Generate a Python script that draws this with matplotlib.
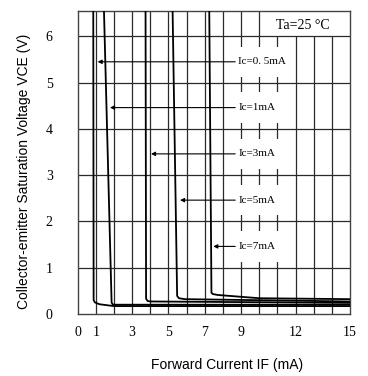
import numpy as np
import matplotlib.pyplot as plt
from matplotlib.patches import Rectangle

# forward current IF (mA) vs VCE(sat) (V)
x_05 = [0.86, 0.88, 0.95, 1.2, 2.0, 15.0]
y_05 = [6.55, 0.30, 0.25, 0.21, 0.17, 0.17]
x_1 = [1.45, 1.87, 1.92, 2.0, 15.0]
y_1 = [6.55, 0.25, 0.21, 0.20, 0.20]
x_3 = [3.74, 3.77, 3.85, 4.0, 15.0]
y_3 = [6.55, 0.33, 0.28, 0.27, 0.24]
x_5 = [5.23, 5.48, 5.58, 5.9, 15.0]
y_5 = [6.55, 0.39, 0.34, 0.32, 0.27]
x_7 = [7.25, 7.37, 7.45, 7.73, 10.0, 15.0]
y_7 = [6.55, 0.46, 0.43, 0.41, 0.34, 0.32]

labels = ["Ic=0. 5mA", "Ic=1mA", "Ic=3mA", "Ic=5mA", "Ic=7mA"]
label_y = [5.45, 4.46, 3.46, 2.46, 1.46]
arrow_tip = [1.1, 1.78, 4.04, 5.64, 7.47]

xtick_vals = [0, 1, 3, 5, 7, 9, 12, 15]
ytick_vals = [0, 1, 2, 3, 4, 5, 6]

serif = ['Liberation Serif', 'DejaVu Serif']
sans = ['Liberation Sans', 'DejaVu Sans']

fig = plt.figure(figsize=(3.68, 3.76), dpi=100)
ax = fig.add_axes([0.211, 0.165, 0.740, 0.806])
ax.set_xlim(0, 15)
ax.set_ylim(0, 6.55)

gc = '#2a2a2a'
top = 6.55
# vertical grid, lines 11..14 stop at 6 (box for Ta label)
for v in range(1, 15):
    ax.vlines(v, 0, 6 if 11 <= v <= 14 else top, color=gc, lw=0.9, zorder=1)
ax.hlines(range(1, 7), 0, 15, color=gc, lw=0.9, zorder=1)

# white gaps in grid behind the labels
for yy in label_y:
    ax.add_patch(Rectangle((8.7, yy - 0.33), 2.5, 0.66, facecolor='white',
                           edgecolor='none', zorder=1.5))

for xs, ys in [(x_05, y_05), (x_1, y_1), (x_3, y_3), (x_5, y_5), (x_7, y_7)]:
    ax.plot(xs, ys, color='black', lw=1.3, zorder=3)

for lab, yy, tip in zip(labels, label_y, arrow_tip):
    ax.annotate('', xy=(tip, yy), xytext=(8.68, yy),
                arrowprops=dict(arrowstyle='-|>', color='black', lw=0.8,
                                mutation_scale=6, shrinkA=0, shrinkB=0),
                zorder=4)
    ax.text(8.85, yy, lab, ha='left', va='center', fontsize=8,
            family=serif, zorder=5)

ax.text(12.4, 6.24, "Ta=25 \u00b0C", ha='center', va='center', fontsize=10,
        family=serif)

ax.set_xticks(xtick_vals)
ax.set_xticklabels([str(v) for v in xtick_vals], family=serif, fontsize=10)
ax.set_yticks(ytick_vals)
ax.set_yticklabels([str(v) for v in ytick_vals], family=serif, fontsize=10)
ax.tick_params(axis='x', length=0, pad=9)
ax.tick_params(axis='y', length=0, pad=18)

for s in ax.spines.values():
    s.set_color('#444444')
    s.set_linewidth(1.0)

ax.set_xlabel("Forward Current IF (mA)", family=sans, fontsize=10)
ax.xaxis.set_label_coords(0.548, -0.145)
ax.set_ylabel("Collector-emitter Saturation Voltage VCE (V)", family=sans,
              fontsize=10)
ax.yaxis.set_label_coords(-0.173, 0.47)

fig.savefig("out.png", dpi=100)
